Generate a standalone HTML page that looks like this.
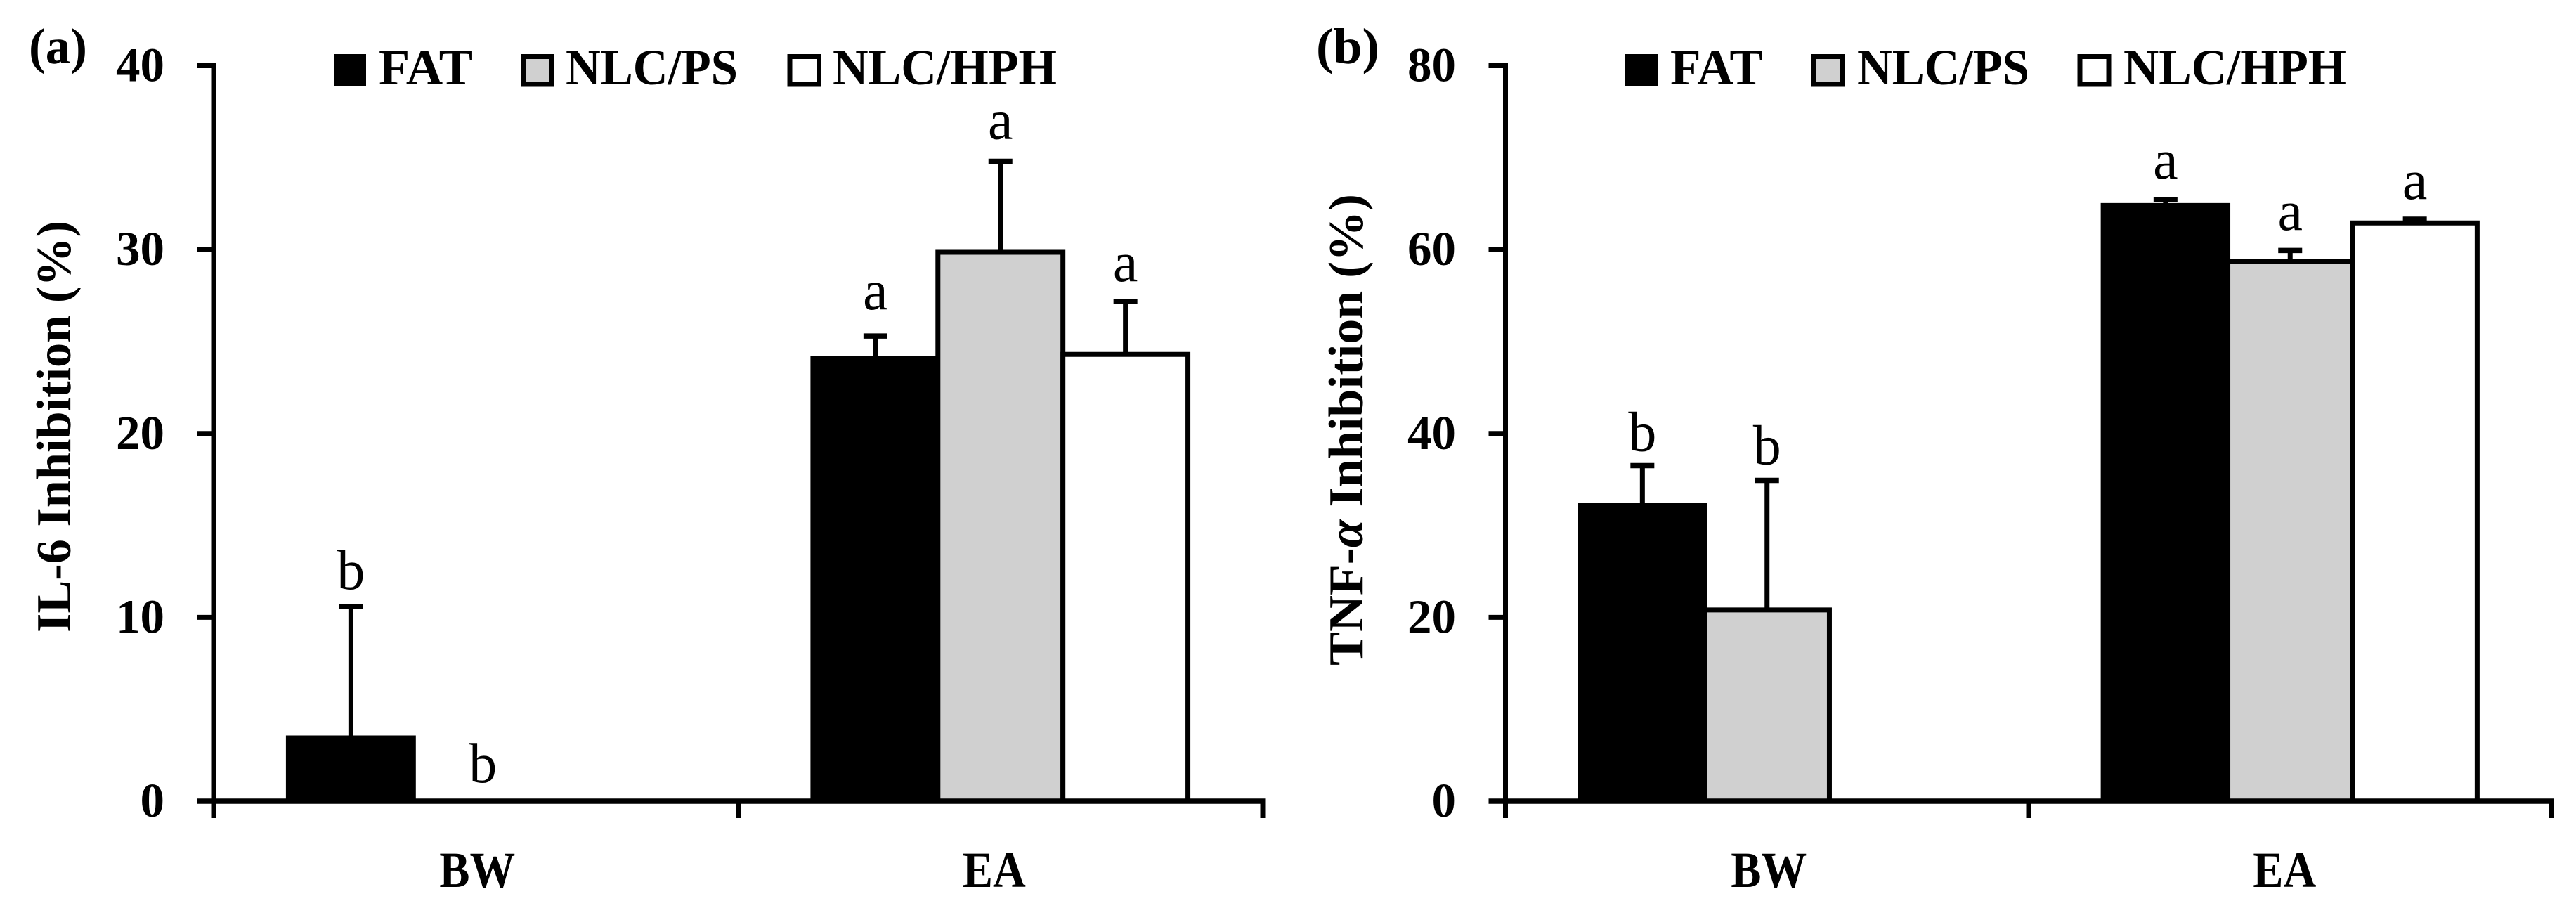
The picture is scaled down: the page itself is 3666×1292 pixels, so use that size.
<!DOCTYPE html>
<html lang="en">
<head>
<meta charset="utf-8">
<title>IL-6 and TNF-α Inhibition</title>
<style>
  html, body { margin: 0; padding: 0; background: #fff; }
  body { width: 3666px; height: 1292px; overflow: hidden; }
  svg { display: block; }
  text { font-family: "Liberation Serif", "DejaVu Serif", serif; fill: #000; }
  .bold { font-weight: bold; }
</style>
</head>
<body>
<svg id="figure" xmlns="http://www.w3.org/2000/svg" width="3666" height="1292" viewBox="0 0 3666 1292">
  <rect x="0" y="0" width="3666" height="1292" fill="#fff"/>

  <g id="panel-a">
    <text class="bold" x="41" y="90" font-size="72" textLength="83" lengthAdjust="spacingAndGlyphs">(a)</text>
    <text class="bold" font-size="70" transform="translate(100 900) rotate(-90)" textLength="586" lengthAdjust="spacingAndGlyphs">IL-6 Inhibition (%)</text>
    <g>
      <rect x="475" y="77" width="46" height="46" fill="#000"/>
      <text class="bold" x="539" y="120" font-size="72" textLength="134" lengthAdjust="spacingAndGlyphs">FAT</text>
      <rect x="744.5" y="80.5" width="40" height="39.5" fill="#d0d0d0" stroke="#000" stroke-width="7"/>
      <text class="bold" x="805" y="120" font-size="72" textLength="245" lengthAdjust="spacingAndGlyphs">NLC/PS</text>
      <rect x="1124" y="80.5" width="41.5" height="39.5" fill="#fff" stroke="#000" stroke-width="7"/>
      <text class="bold" x="1185" y="120" font-size="72" textLength="319" lengthAdjust="spacingAndGlyphs">NLC/HPH</text>
    </g>
  </g>

  <g id="panel-b">
    <text class="bold" x="1873" y="90" font-size="72" textLength="90" lengthAdjust="spacingAndGlyphs">(b)</text>
    <text class="bold" font-size="70" transform="translate(1939 947) rotate(-90)" textLength="671" lengthAdjust="spacingAndGlyphs">TNF-<tspan font-style="italic">α</tspan> Inhibition (%)</text>
    <g>
      <rect x="2313" y="77" width="46" height="46" fill="#000"/>
      <text class="bold" x="2377" y="120" font-size="72" textLength="132" lengthAdjust="spacingAndGlyphs">FAT</text>
      <rect x="2581.5" y="80.5" width="41" height="39.5" fill="#d0d0d0" stroke="#000" stroke-width="7"/>
      <text class="bold" x="2643" y="120" font-size="72" textLength="245" lengthAdjust="spacingAndGlyphs">NLC/PS</text>
      <rect x="2960" y="80.5" width="41" height="39.5" fill="#fff" stroke="#000" stroke-width="7"/>
      <text class="bold" x="3022" y="120" font-size="72" textLength="317" lengthAdjust="spacingAndGlyphs">NLC/HPH</text>
    </g>
  </g>
</svg>

<script>
// ---- chart data ----
const categories = ['BW', 'EA'];
const seriesKeys = ['fat', 'nlc-ps', 'nlc-hph'];

const il6Ticks = [0, 10, 20, 30, 40];
const il6Fat = [3.44, 24.1];
const il6NlcPs = [0, 29.85];
const il6NlcHph = [0, 24.3];
const il6FatErr = [7.14, 1.2];
const il6NlcPsErr = [0, 4.95];
const il6NlcHphErr = [0, 2.87];
const il6FatLetters = ['b', 'a'];
const il6NlcPsLetters = ['b', 'a'];
const il6NlcHphLetters = ['', 'a'];

const tnfTicks = [0, 20, 40, 60, 80];
const tnfFat = [32.15, 64.8];
const tnfNlcPs = [20.8, 58.7];
const tnfNlcHph = [0, 62.9];
const tnfFatErr = [4.35, 0.65];
const tnfNlcPsErr = [14.1, 1.2];
const tnfNlcHphErr = [0, 0.4];
const tnfFatLetters = ['b', 'a'];
const tnfNlcPsLetters = ['b', 'a'];
const tnfNlcHphLetters = ['', 'a'];

// ---- drawing ----
const SVG_NS = 'http://www.w3.org/2000/svg';
const INK = '#000';
const seriesFill = { 'fat': '#000', 'nlc-ps': '#d0d0d0', 'nlc-hph': '#fff' };

function make(parent, tag, attrs) {
  const node = document.createElementNS(SVG_NS, tag);
  for (const k in attrs) node.setAttribute(k, attrs[k]);
  parent.appendChild(node);
  return node;
}

function drawPanel(root, cfg) {
  const plot = cfg.plot;
  const yMax = cfg.ticks[cfg.ticks.length - 1];
  const yScale = function (v) { return plot.y0 - (v / yMax) * (plot.y0 - plot.yTop); };
  const catWidth = (plot.xRight - plot.xLeft) / categories.length;
  const catCenter = function (i) { return plot.xLeft + catWidth * (i + 0.5); };
  const barStep = catWidth * 0.2383;
  const barCenter = function (c, s) { return catCenter(c) + (s - 1) * barStep; };

  // bars and error bars
  cfg.values.forEach(function (series, s) {
    const key = seriesKeys[s];
    series.forEach(function (v, c) {
      const cx = barCenter(c, s);
      const e = cfg.errors[s][c];
      if (e > 0) {
        const stem = make(root, 'line', { x1: cx, x2: cx, y1: yScale(v), y2: yScale(v + e), stroke: INK, 'stroke-width': 7 });
        
        
        const cap = make(root, 'line', { x1: cx - 17, x2: cx + 17, y1: yScale(v + e), y2: yScale(v + e), stroke: INK, 'stroke-width': 7.5 });
        
        
      }
      const left = cx - barStep / 2, right = cx + barStep / 2;
      const bar = make(root, 'path', {
        d: 'M' + left + ' ' + plot.y0 + 'V' + yScale(v) + 'H' + right + 'V' + plot.y0 + 'Z',
        fill: seriesFill[key], stroke: INK, 'stroke-width': 7, 'stroke-linejoin': 'miter'
      });
      
      

      const letter = cfg.letters[s][c];
      if (letter) {
        const label = make(root, 'text', {
          x: cx + (v === 0 ? 10 : 0),
          y: yScale(v + e) - cfg.labelLift[s][c],
          'font-size': 80, 'text-anchor': 'middle'
        });
        label.textContent = letter;
        
        
      }
    });
  });

  // y axis
  const yAxis = make(root, 'line', { x1: plot.xLeft, x2: plot.xLeft, y1: plot.yTop - 3.5, y2: plot.y0 + 24, stroke: INK, 'stroke-width': 7 });
  
  
  cfg.ticks.forEach(function (t) {
    const mark = make(root, 'line', { x1: plot.xLeft - 24, x2: plot.xLeft, y1: yScale(t), y2: yScale(t), stroke: INK, 'stroke-width': 7 });
    
    
    const lab = make(root, 'text', { x: plot.tickLabelRight, y: yScale(t) + 22, 'font-size': 69, 'font-weight': 'bold', 'text-anchor': 'end' });
    lab.textContent = String(t);
    
    
  });

  // x axis
  const xAxis = make(root, 'line', { x1: plot.xLeft - 24, x2: plot.xRight + 3.5, y1: plot.y0, y2: plot.y0, stroke: INK, 'stroke-width': 7.5 });
  
  
  for (let i = 1; i <= categories.length; i++) {
    const tx = plot.xLeft + catWidth * i;
    const tick = make(root, 'line', { x1: tx, x2: tx, y1: plot.y0, y2: plot.y0 + 24, stroke: INK, 'stroke-width': 7 });
    
    
  }
  categories.forEach(function (name, i) {
    const lab = make(root, 'text', {
      x: catCenter(i) + cfg.catLabelShift[i], y: 1262, 'font-size': 72, 'font-weight': 'bold',
      'text-anchor': 'middle', textLength: cfg.catLabelWidth[i], lengthAdjust: 'spacingAndGlyphs'
    });
    lab.textContent = name;
    
    
  });
}

drawPanel(document.getElementById('panel-a'), {
  plot: { xLeft: 304, xRight: 1797, y0: 1140, yTop: 93.5, tickLabelRight: 234 },
  ticks: il6Ticks,
  values: [il6Fat, il6NlcPs, il6NlcHph],
  errors: [il6FatErr, il6NlcPsErr, il6NlcHphErr],
  letters: [il6FatLetters, il6NlcPsLetters, il6NlcHphLetters],
  labelLift: [[25, 38], [27, 32], [0, 29]],
  catLabelShift: [2, -9],
  catLabelWidth: [108, 90]
});

drawPanel(document.getElementById('panel-b'), {
  plot: { xLeft: 2142.5, xRight: 3631.5, y0: 1140, yTop: 93.5, tickLabelRight: 2072 },
  ticks: tnfTicks,
  values: [tnfFat, tnfNlcPs, tnfNlcHph],
  errors: [tnfFatErr, tnfNlcPsErr, tnfNlcHphErr],
  letters: [tnfFatLetters, tnfNlcPsLetters, tnfNlcHphLetters],
  labelLift: [[21, 30], [23, 29.5], [0, 29]],
  catLabelShift: [2.5, -8],
  catLabelWidth: [108, 90]
});
</script>
</body>
</html>
